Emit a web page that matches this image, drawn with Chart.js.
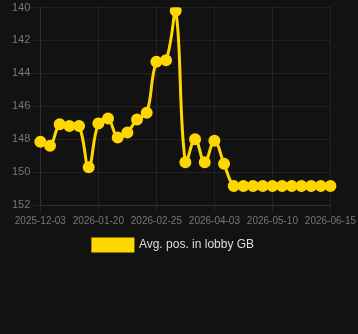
<!DOCTYPE html>
<html>
<head>
<meta charset="utf-8">
<script src="https://cdn.jsdelivr.net/npm/chart.js@4"></script>
<style>
  html, body { margin: 0; padding: 0; background: #121212; }
  #wrap { width: 358px; height: 261px; }
</style>
</head>
<body>
<div id="wrap"><canvas id="lobbyChart"></canvas></div>
<script>
// dates (only every 6th one is shown on the axis)
const dateLabels = [
    '2025-12-03', '2025-12-11', '2025-12-19', '2025-12-27', '2026-01-04', '2026-01-12',
    '2026-01-20', '2026-01-26', '2026-02-01', '2026-02-07', '2026-02-13', '2026-02-19',
    '2026-02-25', '2026-03-03', '2026-03-09', '2026-03-15', '2026-03-22', '2026-03-28',
    '2026-04-03', '2026-04-09', '2026-04-15', '2026-04-21', '2026-04-28', '2026-05-04',
    '2026-05-10', '2026-05-16', '2026-05-22', '2026-05-28', '2026-06-03', '2026-06-09',
    '2026-06-15'
];

// average position in lobby
const avgPos = [
    148.15, 148.4, 147.1, 147.2, 147.2, 149.7,
    147.05, 146.75, 147.9, 147.6, 146.8, 146.4,
    143.3, 143.2, 140.2, 149.4, 148.0, 149.4,
    148.1, 149.5, 150.85, 150.85, 150.85, 150.85,
    150.85, 150.85, 150.85, 150.85, 150.85, 150.85,
    150.85
];

const yTicks = [140, 142, 144, 146, 148, 150, 152];
const labelEvery = 6;

const gold = '#FFD700';
const gridColor = 'rgba(255, 255, 255, 0.07)';

Chart.defaults.font.family = 'Arial, "Liberation Sans", Helvetica, sans-serif';

const ctx = document.getElementById('lobbyChart').getContext('2d');
new Chart(ctx, {
    type: 'line',
    data: {
        labels: dateLabels,
        datasets: [{
            label: 'Avg. pos. in lobby GB',
            data: avgPos,
            borderColor: gold,
            backgroundColor: gold,
            borderWidth: 3,
            pointRadius: 4.5,
            pointBackgroundColor: gold,
            pointBorderColor: gold,
            tension: 0.4,
            fill: false
        }]
    },
    options: {
        responsive: true,
        maintainAspectRatio: false,
        animation: false,
        layout: { padding: { left: 12, right: 23 } },
        plugins: {
            legend: {
                position: 'bottom',
                labels: {
                    color: '#dddddd',
                    boxWidth: 40,
                    boxHeight: 12,
                    font: { size: 12 }
                }
            },
            tooltip: { enabled: false }
        },
        scales: {
            x: {
                grid: { color: gridColor },
                border: { color: gridColor },
                ticks: {
                    color: '#777777',
                    font: { size: 10 },
                    padding: 2,
                    autoSkip: false,
                    maxRotation: 0,
                    minRotation: 0,
                    callback: function(value, index) {
                        return index % labelEvery === 0 ? dateLabels[index] : null;
                    }
                }
            },
            y: {
                reverse: true,
                min: yTicks[0],
                max: yTicks[yTicks.length - 1],
                grid: { color: gridColor, tickLength: 10 },
                border: { color: gridColor },
                ticks: {
                    color: '#777777',
                    font: { size: 11 },
                    padding: 0,
                    stepSize: 2
                }
            }
        }
    }
});
</script>
</body>
</html>
